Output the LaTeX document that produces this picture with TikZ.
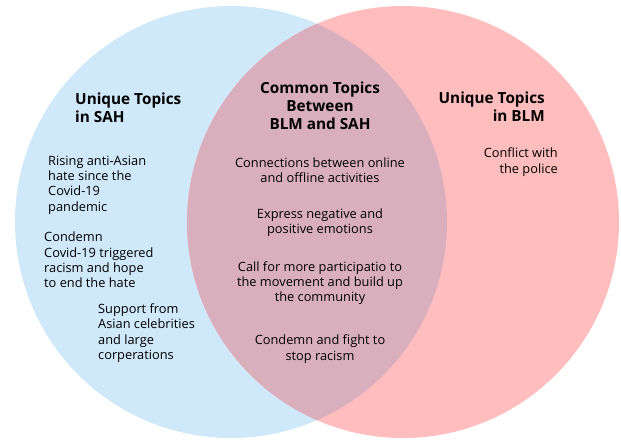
\documentclass[tikz,border=0pt]{standalone}
\usepackage{fontspec}
\setmainfont{Open Sans}
\usepackage{xcolor}
\definecolor{sah_blue}{RGB}{207,232,250}
\definecolor{blm_pink}{RGB}{255,189,189}
\definecolor{both_mix}{RGB}{218,175,189}
\usetikzlibrary{positioning}
\tikzset{
  head/.style={font=\fontsize{15.3}{18}\selectfont\bfseries, inner sep=0pt},
  topic/.style={font=\fontsize{12.8}{15.3}\selectfont, inner sep=0pt},
}
\begin{document}
\begin{tikzpicture}[x=1pt,y=-1pt]
            \useasboundingbox (0,0) rectangle (621,440);
            %円
            \fill[sah_blue] (231,222) circle (216);
            \fill[blm_pink] (403,222) circle (216);
            \begin{scope}
              \clip (231,222) circle (216);
              \fill[both_mix] (403,222) circle (216);
            \end{scope}
            %見出し
            \node[head, anchor=west, align=left] (sahhead) at (75,108) {Unique Topics\\in SAH};
            \node[head, align=center] (commonhead) at (320,106) {Common Topics\\Between\\BLM and SAH};
            \node[head, anchor=east, align=right] (blmhead) at (545,107) {Unique Topics\\in BLM};
            %SAH
            \node[topic, anchor=west, align=left] (sah1) at (48,185) {Rising anti-Asian\\hate since the\\Covid-19\\pandemic};
            \node[topic, anchor=west, align=left] (sah2) at (44,260) {Condemn\\Covid-19 triggered\\racism and hope\\to end the hate};
            \node[topic, anchor=west, align=left] (sah3) at (98,333) {Support from\\Asian celebrities\\and large\\corperations};
            %共通
            \node[topic, align=center] (common1) at (320,170) {Connections between online\\and offline activities};
            \node[topic, align=center] (common2) at (320,223) {Express negative and\\positive emotions};
            \node[topic, align=center] (common3) at (320,283) {Call for more participatio to\\the movement and build up\\the community};
            \node[topic, align=center] (common4) at (320,349) {Condemn and fight to\\stop racism};
            %BLM
            \node[topic, anchor=east, align=right] (blm1) at (558,162) {Conflict with\\the police};
        \end{tikzpicture}
\end{document}
